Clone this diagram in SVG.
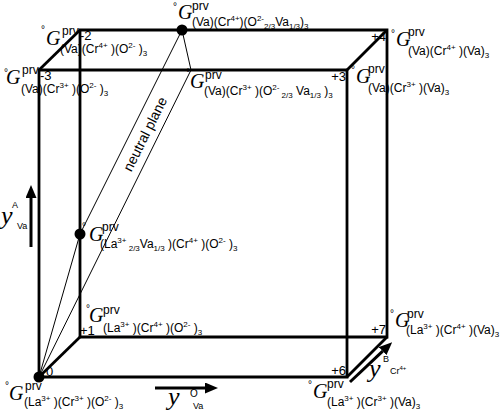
<svg xmlns="http://www.w3.org/2000/svg" width="501" height="412" viewBox="0 0 501 412">
<style>
.bg{fill:#fff}
.cube{fill:none;stroke:#000;stroke-width:2.8;stroke-linejoin:miter}
.thin{fill:none;stroke:#000;stroke-width:1}
.dot{fill:#000}
.arr{stroke:#000;stroke-width:3;fill:none}
text{font-family:"Liberation Sans",Arial,sans-serif;fill:#000}
.g{font-family:"Liberation Serif","Times New Roman",serif;font-style:italic;font-size:20px}
.p{font-size:12px}
.f{font-size:12px}
.s{font-size:8px}
.d{font-size:10px}
.n{font-size:13px}
.y{font-family:"Liberation Serif","Times New Roman",serif;font-style:italic;font-size:26px}
.a{font-size:9px}
.np{font-size:14px}
</style>
<defs>
<marker id="ah" viewBox="0 0 13 11" refX="0" refY="5.5" markerWidth="13" markerHeight="11" markerUnits="userSpaceOnUse" orient="auto">
<path d="M0,0 L13,5.5 L0,11 z" fill="#000"/>
</marker>
</defs>
<rect class="bg" x="0" y="0" width="501" height="412"/>

<g id="cube">
<polygon class="cube" points="80,30 387,30 387,337 80,337"/>
<polygon class="cube" points="39,70 347,70 347,377 39,377"/>
<line class="cube" x1="39" y1="70" x2="80" y2="30"/>
<line class="cube" x1="347" y1="70" x2="387" y2="30"/>
<line class="cube" x1="39" y1="377" x2="80" y2="337"/>
<line class="cube" x1="347" y1="377" x2="387" y2="337"/>
</g>

<g id="connectors">
<line class="thin" x1="39" y1="377" x2="80" y2="234"/>
<line class="thin" x1="80" y1="234" x2="182" y2="30"/>
<line class="thin" x1="182" y1="30" x2="191" y2="70"/>
<line class="thin" x1="191" y1="70" x2="39" y2="377"/>
<text class="np" text-anchor="middle" dy="0.35em" transform="translate(145,134) rotate(-63.4)">neutral plane</text>
</g>

<g id="axes">
<line class="arr" x1="31" y1="247" x2="31" y2="198" marker-end="url(#ah)"/>
<text class="y" x="1" y="224">y</text>
<text class="a" x="12" y="208">A</text>
<text class="a" x="17" y="229">Va</text>
<line class="arr" x1="155" y1="388" x2="205" y2="388" marker-end="url(#ah)"/>
<text class="y" x="168" y="405">y</text>
<text class="a" x="190" y="397" style="font-size:10px">O</text>
<text class="a" x="193" y="409">Va</text>
<line class="arr" x1="350" y1="382" x2="382.7" y2="351.1" marker-end="url(#ah)"/>
<text class="y" x="369" y="377">y</text>
<text class="a" x="383" y="362">B</text>
<text class="a" x="390" y="374" xml:space="preserve">Cr<tspan dy="-4" style="font-size:6px">4+</tspan></text>
</g>

<g id="n0">
<circle class="dot" cx="39" cy="377" r="5.5"/>
<text class="n" x="46" y="376">0</text>
<text class="d" x="5" y="389">°</text>
<text class="g" x="9" y="400">G</text>
<text class="p" x="25" y="390">prv</text>
<text class="f" x="24" y="406" xml:space="preserve">(La<tspan class="s" dy="-5">3+</tspan><tspan dy="5"> )(Cr</tspan><tspan class="s" dy="-5">3+</tspan><tspan dy="5"> )(O</tspan><tspan class="s" dy="-5">2-</tspan><tspan dy="5"> )</tspan><tspan class="s" dy="3">3</tspan></text>
</g>

<g id="n1">
<text class="n" x="80" y="335">+1</text>
<text class="d" x="86" y="312">°</text>
<text class="g" x="89" y="322">G</text>
<text class="p" x="103" y="314">prv</text>
<text class="f" x="103" y="332" xml:space="preserve">(La<tspan class="s" dy="-5">3+</tspan><tspan dy="5"> )(Cr</tspan><tspan class="s" dy="-5">4+</tspan><tspan dy="5"> )(O</tspan><tspan class="s" dy="-5">2-</tspan><tspan dy="5"> )</tspan><tspan class="s" dy="3">3</tspan></text>
</g>

<g id="n2">
<text class="n" x="80" y="40">-2</text>
<text class="d" x="41" y="33">°</text>
<text class="g" x="46" y="45">G</text>
<text class="p" x="62" y="35">prv</text>
<text class="f" x="60" y="53" xml:space="preserve">(Va)(Cr<tspan class="s" dy="-5">4+</tspan><tspan dy="5"> )(O</tspan><tspan class="s" dy="-5">2-</tspan><tspan dy="5"> )</tspan><tspan class="s" dy="3">3</tspan></text>
</g>

<g id="n3m">
<text class="n" x="40" y="80">-3</text>
<text class="d" x="4" y="76">°</text>
<text class="g" x="6" y="84">G</text>
<text class="p" x="22" y="74">prv</text>
<text class="f" x="21" y="93" xml:space="preserve">(Va)(Cr<tspan class="s" dy="-5">3+</tspan><tspan dy="5"> )(O</tspan><tspan class="s" dy="-5">2-</tspan><tspan dy="5"> )</tspan><tspan class="s" dy="3">3</tspan></text>
</g>

<g id="ntop">
<circle class="dot" cx="182" cy="30" r="5.5"/>
<text class="d" x="173" y="10">°</text>
<text class="g" x="178" y="19">G</text>
<text class="p" x="192" y="10">prv</text>
<text class="f" x="192" y="26" xml:space="preserve">(Va)(Cr<tspan class="s" dy="-5">4+</tspan><tspan dy="5">)(O</tspan><tspan class="s" dy="-5">2-</tspan><tspan class="s" dy="8">2/3</tspan><tspan dy="-3">Va</tspan><tspan class="s" dy="3">1/3</tspan><tspan dy="-3">)</tspan><tspan class="s" dy="3">3</tspan></text>
</g>

<g id="nfront">
<text class="d" x="186" y="76">°</text>
<text class="g" x="190" y="88">G</text>
<text class="p" x="205" y="79">prv</text>
<text class="f" x="204" y="95" xml:space="preserve">(Va)(Cr<tspan class="s" dy="-5">3+</tspan><tspan dy="5"> )(O</tspan><tspan class="s" dy="-5">2-</tspan><tspan class="s" dy="8"> 2/3</tspan><tspan dy="-3"> Va</tspan><tspan class="s" dy="3">1/3</tspan><tspan dy="-3"> )</tspan><tspan class="s" dy="3">3</tspan></text>
</g>

<g id="nmid">
<circle class="dot" cx="80" cy="234" r="5.5"/>
<text class="d" x="82" y="230">°</text>
<text class="g" x="89" y="241">G</text>
<text class="p" x="102" y="231">prv</text>
<text class="f" x="100" y="248" xml:space="preserve">(La<tspan class="s" dy="-5">3+</tspan><tspan class="s" dy="8"> 2/3</tspan><tspan dy="-3">Va</tspan><tspan class="s" dy="3">1/3</tspan><tspan dy="-3"> )(Cr</tspan><tspan class="s" dy="-5">4+</tspan><tspan dy="5"> )(O</tspan><tspan class="s" dy="-5">2-</tspan><tspan dy="5"> )</tspan><tspan class="s" dy="3">3</tspan></text>
</g>

<g id="n3">
<text class="n" x="346" y="81" text-anchor="end">+3</text>
<text class="d" x="351" y="73">°</text>
<text class="g" x="356" y="83">G</text>
<text class="p" x="368" y="73">prv</text>
<text class="f" x="368" y="92" xml:space="preserve">(Va)(Cr<tspan class="s" dy="-5">3+</tspan><tspan dy="5"> )(Va)</tspan><tspan class="s" dy="3">3</tspan></text>
</g>

<g id="n4">
<text class="n" x="386" y="41" text-anchor="end">+4</text>
<text class="d" x="391" y="37">°</text>
<text class="g" x="396" y="46">G</text>
<text class="p" x="408" y="36">prv</text>
<text class="f" x="408" y="55" xml:space="preserve">(Va)(Cr<tspan class="s" dy="-5">4+</tspan><tspan dy="5"> )(Va)</tspan><tspan class="s" dy="3">3</tspan></text>
</g>

<g id="n6">
<text class="n" x="346" y="375" text-anchor="end">+6</text>
<text class="d" x="308" y="388">°</text>
<text class="g" x="313" y="398">G</text>
<text class="p" x="327" y="388">prv</text>
<text class="f" x="327" y="406" xml:space="preserve">(La<tspan class="s" dy="-5">3+</tspan><tspan dy="5"> )(Cr</tspan><tspan class="s" dy="-5">3+</tspan><tspan dy="5"> )(Va)</tspan><tspan class="s" dy="3">3</tspan></text>
</g>

<g id="n7">
<text class="n" x="386" y="334" text-anchor="end">+7</text>
<text class="d" x="390" y="317">°</text>
<text class="g" x="395" y="327">G</text>
<text class="p" x="407" y="318">prv</text>
<text class="f" x="406" y="334" xml:space="preserve">(La<tspan class="s" dy="-5">3+</tspan><tspan dy="5"> )(Cr</tspan><tspan class="s" dy="-5">4+</tspan><tspan dy="5"> )(Va)</tspan><tspan class="s" dy="3">3</tspan></text>
</g>
</svg>
